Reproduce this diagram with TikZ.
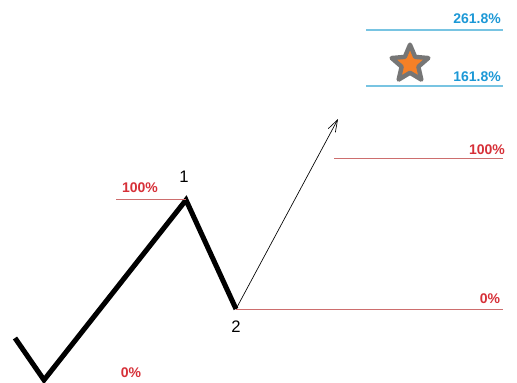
\documentclass[tikz,border=0pt]{standalone}
\usepackage{fontspec}
\setmainfont{Liberation Sans}
\usepackage{tikz}
\usetikzlibrary{positioning, arrows.meta, shapes.geometric}
\definecolor{NivelRojo}{RGB}{214,48,56}
\definecolor{LineaRoja}{RGB}{205,110,110}
\definecolor{NivelAzul}{RGB}{28,152,214}
\definecolor{LineaAzul}{RGB}{120,196,226}
\definecolor{EstrellaGris}{RGB}{118,118,118}
\definecolor{EstrellaNaranja}{RGB}{246,128,38}

\begin{document}
\begin{tikzpicture}[x=0.75pt, y=-0.75pt, >=Stealth,
  onda/.style={line width=3.8pt, line join=miter, line cap=butt},
  nivel/.style={draw=LineaRoja, line width=0.6pt},
  nivelext/.style={draw=LineaAzul, line width=0.8pt},
  etiq/.style={font=\fontsize{10.5}{12}\selectfont\bfseries, text=NivelRojo, inner sep=0pt, anchor=base},
  etiqext/.style={etiq, text=NivelAzul},
  punto/.style={font=\fontsize{12.5}{14}\selectfont, inner sep=0pt, anchor=base}]
  \useasboundingbox (0,0) rectangle (517,382);
  % puntos de la onda
  \coordinate (w0) at (15,338);
  \coordinate (w1) at (44,380);
  \coordinate (w2) at (186,200);
  \coordinate (w3) at (236,309);
  \coordinate (obj) at (338,119);
  \draw[onda] (w0) -- (w1) -- (w2) -- (w3);
  % niveles de retroceso
  \coordinate (a0) at (116,199.5);
  \draw[nivel] (a0) -- (w2 |- a0);
  \node[etiq] (p100a) at (140,192) {100\%};
  \node[punto] (n1) at (184,182) {1};
  \node[punto] (n2) at (236,332) {2};
  \node[etiq] (p0a) at (131,377) {0\%};
  \coordinate (b0) at (503,309.5);
  \draw[nivel] (w3 |- b0) -- (b0);
  \node[etiq] (p0b) at (490,303) {0\%};
  % proyeccion
  \draw[->, line width=0.5pt, arrows={-Straight Barb[length=9pt, width=6pt]}] (w3) -- (obj);
  \coordinate (c0) at (334,158.5);
  \coordinate (c1) at (503,158.5);
  \draw[nivel] (c0) -- (c1);
  \node[etiq] (p100b) at (487,154) {100\%};
  % extensiones
  \coordinate (d0) at (366,86);
  \coordinate (d1) at (503,86);
  \draw[nivelext] (d0) -- (d1);
  \node[etiqext] (p161) at (477,81) {161.8\%};
  \coordinate (e0) at (366,30);
  \coordinate (e1) at (503,30);
  \draw[nivelext] (e0) -- (e1);
  \node[etiqext] (p261) at (477,23) {261.8\%};
  \node[star, star points=5, star point ratio=2.2, minimum size=29pt, inner sep=0pt,
    draw=EstrellaGris, line width=3.3pt, line join=round, fill=EstrellaNaranja] (estrella) at (410,64) {};
\end{tikzpicture}
\end{document}
